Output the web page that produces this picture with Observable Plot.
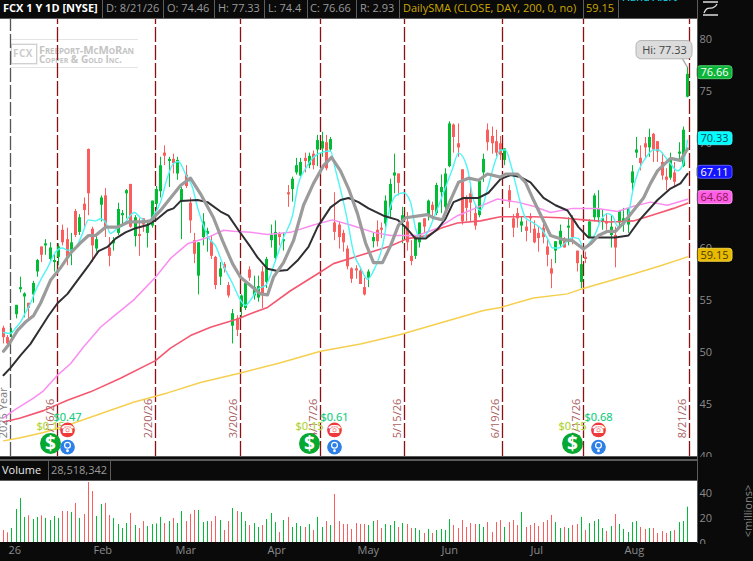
<!DOCTYPE html>
<html><head><meta charset="utf-8">
<script src="https://cdn.jsdelivr.net/npm/d3@7"></script>
<script src="https://cdn.jsdelivr.net/npm/@observablehq/plot@0.6"></script>
<style>
html,body{margin:0;padding:0;background:#0a0a0a;overflow:hidden}
#c{position:relative;width:753px;height:561px;overflow:hidden;font-family:"Open Sans",sans-serif;font-size:11px}
#c>svg{position:absolute;left:0;top:0;background:transparent}
.d{position:absolute}
.t{position:absolute;white-space:nowrap;line-height:14px}
</style></head><body><div id="c"></div>
<script>
// candles, one row of values per trading day
const open=[52.3,51.4,51.8,53.6,56,55.3,54.7,55.5,57.7,60.1,60.2,58.9,58.6,59.1,61.7,60.8,59.6,63.5,61.5,64.2,69.45,61.8,59.9,64.1,65,60,60.4,61.4,63.1,65.2,66.1,61.1,61.3,62.8,61.4,62.1,64.2,65.4,69.1,68.3,68.5,67.1,64.4,67,64.3,60.7,57.3,61,61.3,60.6,59.1,57.2,58.4,56.4,52.5,53.2,54.3,54.2,57.9,55.4,55.2,57.7,56.7,60.7,59,61.3,60.6,65.3,65.6,67.2,66.9,68.6,67.9,69,69.4,69.5,70.1,69.4,62.4,62.2,61.4,59.9,58,58,57.8,56.2,57.1,60.6,61.7,61.9,62.3,63.6,66.9,67.1,62.4,62.5,59.2,59.2,60.5,62.8,63.1,64.1,63.3,65.3,63.9,67.8,71.8,70,67.5,64.8,65.2,63.3,63.1,67.2,71.3,70.7,70.2,70,68.4,65.5,62.8,63.3,62.1,62,63,61.8,61.4,61.9,60.1,58,59.7,60.3,60.7,61.9,62.8,59.7,56.7,59.1,61,62.9,62.9,62.5,62.5,61.2,61.2,62.4,62.2,62.2,66.2,69.1,68.6,70,69.6,70.9,70.2,68.2,66.8,66.7,67.2,69,67.8,74.46];
const high=[52.5,51.6,52.3,54.5,57.2,55.7,54.7,56.8,58.9,60.1,60.8,60.5,59.3,60.4,62.2,61.9,61.4,63.7,63.2,64.8,69.5,62,61.3,65,65.7,61,61,64.3,63.6,65.6,66.1,63.1,62.8,62.8,62.5,64.5,65.9,68.7,69.8,68.7,69,68.7,65.8,67.9,64.8,61.4,60.5,63.3,61.9,61.2,59.2,58.6,58.6,56.7,54.1,53.5,55.5,56.6,58.2,57.3,57.3,58.2,59.1,62.2,62.6,61.5,61.4,66,66.8,68.6,68.6,69.1,69.1,69.3,70.8,71.1,70.8,70.6,65.3,62.5,61.7,60.2,58.1,58.3,58,57.1,57.9,61.4,62.6,62.4,65,66.6,69,67.1,63.9,63.4,60.7,61.1,62.4,62.8,64.6,64.4,66.2,67,67.6,72.1,71.9,71.9,67.5,65,66,64.1,66.5,69,71.9,71.6,71.3,70.7,69.5,66,63.2,63.8,63,62.6,63.3,62.6,62,62.3,60.9,58.9,60.6,62.2,61,62.9,63.1,59.7,59.3,59.6,62.7,65.2,65.5,63.6,63.3,63.1,62,63.6,63.8,63.8,67.9,70.6,69.8,70.6,71.4,71,70.2,69.1,67.6,69.1,68.2,70.1,71.6,77.33];
const low=[50.8,50.7,51.3,53.2,55.7,53.3,53.2,54.7,57.2,58.6,59.3,58.6,57.7,58.3,60.2,58.3,58.3,61,61.2,62,63.1,58.6,59.6,62.5,61,58.2,59.7,61.2,62.2,62.8,61.9,60.1,59.2,61.5,60,61.9,63.6,64.8,67.9,65.8,67.1,66.5,60.8,65.7,61.4,58.5,55.5,60.2,59.6,58.9,56,56.4,57.6,55.2,50.8,51.5,53.3,54,56.8,55,54.8,54.2,56.1,60,58.6,60.2,59.7,63.9,64.4,67,66.8,67.2,67.6,67.5,67.8,68.7,67.4,69.2,60.7,59.9,59.6,57.9,56.6,57,56.5,55.4,56.2,60,60.1,60.9,62,62.9,65.2,65,60.4,59.7,58.3,58.9,60,61.4,62.6,62.7,63.1,63.3,63.1,67.7,69.1,68.7,62.2,62.5,62.5,61.7,62.9,66.3,69.3,69,68.7,68.4,67.9,63.8,61,61.9,61.5,60.6,61.4,60.4,59.6,60.4,58.2,56.1,58.5,60,60,60.2,60.3,57.7,56.1,58.5,60.9,62.5,62.4,61.7,61.7,60,58.1,62,61.5,61.4,65.3,68.6,67.4,68.6,68.7,68.2,68.2,66.5,65.5,66.5,65.9,68.2,67.7,74.4];
const close=[51.4,50.8,52,54.5,56.2,55.6,54.2,56.6,58.8,59.3,60.4,60,58.8,60.1,60.5,59,60.5,61.2,62.9,63.6,65.2,60.2,60.8,64.8,62,59.2,60.7,63.7,63.3,65.5,62,62.9,61.1,62.2,62.2,64.5,65.6,67.9,68.8,68.5,68.1,68.4,65.6,65.9,62.6,59.4,60.5,62.5,61.6,59.2,56.4,58,58,55.4,53.7,52.1,55.4,56.6,57.1,56.2,56.3,55.5,58.9,61.2,61.5,61,60.8,65.2,66.6,67.9,68.2,68.3,68.8,67.9,70.3,70.2,67.6,70.4,61.5,61,60.5,58.2,57,57.8,56.5,55.5,57.7,61,60.6,61.7,64.5,66.1,67.2,66.2,63.1,60.5,58.7,61,62.4,62,64.5,63.6,66,65.8,67.1,71.9,70.6,69.6,62.5,63.8,64.3,62.1,66.4,68.5,70.1,70,69.1,68.9,69.5,64.4,61.9,62.8,62.5,61.6,62.8,60.5,60.9,61,59.3,57.5,60.6,61.6,60,62.1,61,58.5,58.4,58.9,62.5,65,63.7,62.8,62.4,62,60,63.5,62.8,63.7,67.3,69.4,68.1,69.6,70.6,69.4,69.2,66.9,66.5,68.5,66.3,69.2,71.3,76.66];
// volume in millions
const volume=[9.7,7.8,11.3,26.6,35.5,20.2,21.5,18.5,20.2,21.5,19.4,17.7,21,19.4,25,25,24.2,31.5,19.4,22.6,48.4,41.1,21,30.6,31.5,21.8,19.4,14.5,11.3,15.3,23.4,13.7,11.3,16.9,12.9,14.5,15,20.2,15.3,16.9,19.4,15.3,25,16.9,22.6,25.8,25.8,16.1,16.9,16.9,21,17.7,9.7,16.9,27.4,25,24.2,16.9,13.7,15.3,12.1,13.7,18.5,23.4,16.1,8,17.7,20.2,12.1,15.3,12.9,12.1,14.5,9.7,20.2,12.1,16.9,13.7,38.7,16.9,14.5,14.5,10.5,15.3,14.5,14.5,13.7,16.9,17.7,11.3,14.5,13.7,16.9,12.1,15.3,14.5,11.3,11.3,9.7,7.3,10.5,7.3,9.7,10.5,9.7,18.5,13.7,11.3,17.7,12.1,15.3,14.5,14.5,12.1,16.1,8,16.1,17.7,12.1,16.1,17.7,13.7,24.2,12.1,13.7,15.3,12.9,16.1,17.7,21.8,16.1,11.3,12.1,11.3,13.7,14.5,20.2,9.7,15.3,16.9,18.5,11.3,8.9,12.9,22.6,14.5,10.5,8,16.1,16.9,12.1,10.5,11.3,11.3,7.3,8.9,7.3,8.9,9.7,16.1,16.9,28.5];
// moving averages: bar position and value
const cyanAt=[0,1.7,2.9,4.1,5.2,6.4,7.6,8.8,10.4,12.3,14,15.1,16.3,17.7,18.7,20.1,21.7,22.9,24.1,25.2,26.9,28.3,29.5,30.9,32.3,34,35.4,37,38.7,40.1,41.2,42.9,44.5,45.7,46.9,48.3,50,51.8,54,55.8,57,58.2,60.1,61.7,64,65.9,68.1,69.5,71.1,73,75.1,77,78.2,79.8,81,82.4,84.1,85.7,87.1,89.2,90.7,92.3,94.2,95.8,97,98.2,99.8,101.7,103.6,105.7,107.1,109.2,110.6,112.3,114,115.8,117,118.2,119.4,120.5,121.7,122.9,124.8,126.9,128.1,129.2,130.6,132.3,133.9,135.4,136.5,137.9,139.4,140.5,142.2,143.4,144.5,145.7,146.9,148.3,149.5,151.6,153,154.2,155.8,157,158.6,159.8,161];
const cyanVal=[51.9,51.8,52.3,52.9,53.8,54.7,55.9,56.9,58.1,59.6,60,59.8,59.8,60.5,61.4,62.7,62.6,62.8,62.5,61.4,61.9,62.2,62.9,63.4,62.9,62.5,63.1,64.4,66.8,68.1,68.3,67.1,65.8,63.9,62.4,61,60.2,58.3,56.6,55,54.5,55,56.1,56.4,58.8,61,63.1,66.2,67.6,68.7,69.2,69.3,67.5,64.8,62.6,59.6,58.1,57,57.8,60.2,63.3,65,65.3,64.4,61.9,60.9,61.5,63.3,65.3,67.6,69.1,67.6,64.6,63.6,65.7,68.4,69.4,69.4,68.1,66.2,64.3,62.9,62.4,61.7,60.9,60,60,60.5,61,60.9,60,60.5,61.4,62.6,63.3,63.1,62.1,62.2,62.9,65.8,67.4,68.9,69.4,69.4,68.7,68.1,67.4,67.9,70.33];
const grayAt=[0,1.2,3.4,5.2,7.1,8.8,11.1,13.5,15.8,18.2,20.1,21.7,24.1,26.9,29.5,33,34.7,37,39.4,41.7,44.1,46.4,49.5,51.6,54,55.8,58.2,60.5,62.2,63.6,65.9,68.3,70.7,73,75.4,77.2,79.4,81.2,83.4,85.2,87.1,89.2,91.1,93,94.7,99.8,101.2,103.4,105.3,107.1,109.5,111.8,114,117,118.2,121,122.9,124.8,126.9,128.8,131.8,133.9,136.5,138.2,140,142.2,144,145.9,148.3,150.7,152.3,153.9,157,159.4,161];
const grayVal=[50.1,50.7,52.1,52.9,53.5,54.7,56.9,58.1,59.5,60.5,61.2,61.2,62,62,62.5,62.5,62.6,63.6,64.8,66,66.7,65.2,62.9,60.7,58.5,57.2,56.4,55.6,55.5,57.2,58.6,60.7,64.1,66.2,67.9,68.7,67.4,65.7,63.3,60.5,58.6,58.6,60.2,62.2,62.9,63.2,62.9,62.7,64.6,66.3,66.7,66.5,67.1,66.8,67.1,67.1,66.3,64.6,62.8,61.2,60.8,60.7,59.9,60.4,61.2,61.6,61.6,62.4,63.6,64.8,66.2,67.4,68.6,68.4,69.5];
const blackAt=[0,1.7,4.1,6.4,8.8,10.7,12.8,15.1,17.5,20.1,22.4,24.5,26.4,28.8,31.1,34,36.3,38.7,40.1,41.7,45.7,48.1,51.1,53,55.4,58.2,59.8,62.2,64.5,66.9,69.2,71.8,73.9,77,79.4,81.2,83.6,86,89.5,92.8,94.7,97,99.4,102.2,104,105.9,108.3,111.8,114.2,117,119.4,121.7,124.1,127.1,129.9,132.8,135.4,137.7,144,147.1,149.9,153.9,157,159.4,161];
const blackVal=[47.8,48.5,49.7,50.8,52.3,53.5,54.7,55.6,56.9,58.3,59.7,60.1,60.9,61.5,61.9,62.2,62.8,63.6,63.8,64.5,64.6,64.4,63.5,63.1,61.7,60.1,59.1,58,57.8,57.9,58.8,60.1,62,63.9,64.6,64.8,64.4,63.8,63.1,62.7,62,60.9,60.9,61.8,62.8,64.4,64.8,64.8,65.3,66.6,67,66.8,66.3,64.8,64.1,63.6,62,61,61,61.2,62.8,64.6,65.7,66.2,67.11];
const pinkAt=[0,2.4,7.1,9.5,12.8,15.8,18.9,22.9,25.2,30.7,35.8,39.4,43.4,48.1,51.8,54.2,58.2,62.2,67.6,73,77.5,81.7,87.1,91.1,97.5,102.2,106.9,111.6,116.3,121,124.8,128.8,133.9,139.8,144.5,148.3,152.3,156.3,161];
const pinkVal=[43.7,44.4,45.6,46.3,47.8,48.9,50.5,52.4,53.2,55,57.2,59,60.4,61,61.7,61.6,61.5,61.3,61.5,62.2,62.7,62.2,61.5,61.2,61.2,61.9,63.1,63.9,64.7,64.4,64,63.4,63.8,63.8,63.5,64,64.4,64.1,64.68];
const redAt=[0,4.1,9.5,15.1,20.5,27.6,35.8,39.4,44.1,48.8,55.1,58.2,62.2,67.6,74.7,77.7,84.1,91.1,95.1,99.8,102.9,106.9,112.3,117,124.8,131.1,136.5,142.9,148.3,153.9,157.7,161];
const redVal=[43.3,43.7,44.4,45.4,46.2,47.5,49.2,50.4,51.6,52.4,53.2,53.7,54.3,55.9,57.7,58.5,59.3,60.2,60.9,61.2,61.9,62.4,62.6,63,63,62.9,62.7,62.5,62.6,63.3,63.8,64.3];
const yellowAt=[0,4.1,9.5,15.1,22.9,30.7,38.7,46.4,55.8,65.2,74.7,84.1,93.5,105.3,113.1,117,124.8,132.8,136.3,140.5,148.3,154.7,161];
const yellowVal=[41.5,41.8,42.3,43,44.1,45.2,46.1,47.1,48,49,50.1,50.8,51.7,53.1,54,54.3,55.2,55.6,56.1,56.6,57.5,58.3,59.15];
// expiry markers and labels
const expiryAt=[12.66,35.7,55.7,74.5,94.4,117.5,136.5,161.5];
const expiryLabels=["1/16/26","2/20/26","3/20/26","4/17/26","5/15/26","6/19/26","7/17/26","8/21/26"];
const yearAt=[1.6];
const yearLabels=["2025 Year"];
const divAt=[11,72,134];
const divLabels=["$0.15","$0.15","$0.15"];
const earnAt=[15,78,140];
const earnLabels=["$0.47","$0.61","$0.68"];
const monthAt=[1.5,21.5,40.8,62.4,83.6,103.4,124.3,146.4];
const monthLabels=["26","Feb","Mar","Apr","May","Jun","Jul","Aug"];
const priceTicks=[80,75,70,65,60,55,50,45,40];
const volTicks=[40,20,0];
const tagValues=[76.66,70.33,67.11,64.68,59.15];
const tagFill=["#0cb53a","#00ffff","#1414ff","#ff5fe8","#e8bb00"];
const tagText=["#ffffff","#0b4a55","#ffffff","#8a1a50","#4a3a00"];
const tagBorder=["#50d070","#40e8f0","#5a5aff","#ff9af0","#f0d040"];

const n=close.length, bars=d3.range(n);
const UP="#00bd35", DOWN="#fb5d5d";
const col=i=>close[i]>=open[i]?UP:DOWN;
const c=document.getElementById("c");
const font='"Open Sans",sans-serif';
const xScale={type:"linear",domain:[0,161],range:[3,687],round:true};
function box(l,t,w,h,bg,parent){const e=document.createElement("div");e.className="d";e.style.cssText=`left:${l}px;top:${t}px;width:${w}px;height:${h}px;background:${bg}`;(parent||c).appendChild(e);return e}
function txt(s,l,t,color,extra){const e=document.createElement("div");e.className="t";e.textContent=s;e.style.cssText=`left:${l}px;top:${t}px;color:${color};${extra||""}`;c.appendChild(e);return e}

// panel backgrounds
box(0,19,697,437,"#fff");
box(0,481,697,61,"#fff");

// watermark
box(10,39,128,1,"#e4e4e4"); box(10,67,128,1,"#e4e4e4");
const mark=box(11,44,24,18,"transparent"); mark.style.border="1.5px solid #d0d0d0"; mark.style.boxShadow="0 0 0 1px #eee";
txt("FCX",13,46,"#cccccc","font:bold 10px 'Open Sans',sans-serif;line-height:14px;letter-spacing:.5px");
txt("Freeport-McMoRan",39,43,"#c4c4c4","font:bold 11px 'Open Sans',sans-serif;font-variant:small-caps;line-height:14px;letter-spacing:-.1px");
txt("Copper & Gold Inc.",39,52,"#c4c4c4","font:bold 10px 'Open Sans',sans-serif;font-variant:small-caps;line-height:14px;");

const dots=(at,val,r,fill)=>Plot.dot(at,{x:d=>d,y:()=>val,r,fill,stroke:"none"});
const lineOf=(at,val,stroke,strokeWidth,curve)=>Plot.line(d3.range(at.length),{x:i=>at[i],y:i=>val[i],stroke,strokeWidth,curve:curve||"linear"});

const price=Plot.plot({
  width:753,height:561,marginTop:0,marginBottom:0,marginLeft:0,marginRight:56,
  style:{fontFamily:font,fontSize:"11px",background:"transparent"},
  x:{...xScale,axis:null},
  y:{type:"linear",domain:[40,80],range:[456,39]},
  marks:[
    Plot.ruleX(yearAt,{x:d=>d,y1:40,y2:82.0,stroke:"#555",strokeWidth:1.3,strokeDasharray:"14,3"}),
    Plot.ruleX(expiryAt,{x:d=>d,y1:40,y2:82.0,stroke:"#8e0f0f",strokeWidth:1.3,strokeDasharray:"15,3"}),
    Plot.ruleX(bars,{x:i=>i,y1:i=>low[i],y2:i=>high[i],stroke:col,strokeWidth:1}),
    Plot.ruleX(bars,{x:i=>i,y1:i=>open[i],y2:i=>Math.abs(open[i]-close[i])<.2?open[i]+(close[i]>=open[i]?.2:-.2):close[i],stroke:col,strokeWidth:3}),
    lineOf(yellowAt,yellowVal,"#f6cf4f",1.5),
    lineOf(redAt,redVal,"#f4576f",1.6),
    lineOf(pinkAt,pinkVal,"#fb8df0",1.5),
    lineOf(cyanAt,cyanVal,"#4ff5f5",1.4,"monotone-x"),
    lineOf(blackAt,blackVal,"#2f2f33",2),
    lineOf(grayAt,grayVal,"#9b9b9b",3.2),
    Plot.axisY({ticks:priceTicks,anchor:"right",tickSize:0,tickPadding:2,color:"#8a8a8a",label:null,tickFormat:d=>d,fontSize:11,textAnchor:"start"}),
    Plot.text(expiryLabels,{x:(d,i)=>expiryAt[i],y:()=>41.75,text:d=>d,rotate:-90,textAnchor:"start",dx:-7,fill:"#a9605f",fontSize:11}),
    Plot.text(yearLabels,{x:(d,i)=>yearAt[i],y:()=>41.75,text:d=>d,rotate:-90,textAnchor:"start",dx:-7,fill:"#7c7c7c",fontSize:11}),
    // event markers
    dots(divAt,41.25,10.5,"#06a82f"),
    Plot.text(divAt,{x:d=>d,y:()=>41.25,text:()=>"$",fill:"#fff",fontWeight:"bold",fontSize:19}),
    Plot.text(divLabels,{x:(d,i)=>divAt[i],y:()=>42.85,text:d=>d,fill:"#a8d040",stroke:"#f3f7a8",strokeWidth:.5,fontSize:11,dy:0}),
    dots(earnAt,42.55,7.4,"#ee3a3a"),
    Plot.text(earnAt,{x:d=>d,y:()=>42.55,text:()=>"\u260E",fill:"#fff",fontSize:11,fontFamily:"DejaVu Sans"}),
    Plot.text(earnLabels,{x:(d,i)=>earnAt[i],y:()=>43.7,text:d=>d,fill:"#10c878",stroke:"#b8f5e0",strokeWidth:.4,fontSize:11}),
    dots(earnAt,40.9,7.4,"#2c80e8"),
    Plot.dot(earnAt,{x:d=>d,y:()=>41.08,r:2.9,stroke:"#fff",strokeWidth:1.2,fill:"#2c80e8"}),
    Plot.dot(earnAt,{x:d=>d,y:()=>40.55,r:1.4,fill:"#fff"}),
    // high label
    Plot.link([high[161]],{x1:()=>159.6,y1:()=>78.3,x2:()=>161,y2:d=>d,stroke:"#b0b0b0",strokeWidth:1.5}),
    Plot.rect([high[161]],{x1:()=>149,x2:()=>162.2,y1:()=>79.85,y2:()=>78.1,fill:"#dcdcdc",stroke:"#b4b4b4",rx:5}),
    Plot.text([high[161]],{x:()=>155.6,y:()=>78.98,text:d=>"Hi: "+d,fill:"#444",fontSize:11}),
    // value tags
    Plot.rect(tagValues,{x1:()=>163.3,x2:()=>171.5,y1:d=>d+.62,y2:d=>d-.62,dy:-1.6,fill:(d,i)=>tagFill[i],stroke:(d,i)=>tagBorder[i],rx:3}),
    Plot.text(tagValues,{x:()=>167.35,y:d=>d,dy:-1.6,text:d=>d.toFixed(2),fill:(d,i)=>tagText[i],fontSize:11})
  ]
});
c.appendChild(price);

// top bar
box(0,0,697,18,"#0a0a0a");
box(0,18,697,1,"#5c5c5c");
[102,163,214,264,306.7,356,398.7,583,618].forEach(x=>box(x,0,1,18,"#5c5c5c"));
const barText=[["FCX 1 Y 1D [NYSE]",3,"#fff","font-weight:700"],["D: 8/21/26",106,"#9a9a9a"],["O: 74.46",167,"#9a9a9a"],["H: 77.33",218,"#9a9a9a"],["L: 74.4",268,"#9a9a9a"],["C: 76.66",310,"#9a9a9a"],["R: 2.93",360,"#9a9a9a"],["DailySMA (CLOSE, DAY, 200, 0, no)",403,"#cba800"],["59.15",586,"#cba800"]];
barText.forEach(t=>txt(t[0],t[1],1,t[2],t[3]||""));
txt("Hand Alert",622,-10,"#18e8ff");
// right strip icon
const icon=document.createElementNS("http://www.w3.org/2000/svg","svg");
icon.setAttribute("width","20");icon.setAttribute("height","18");
icon.style.cssText="position:absolute;left:701px;top:0";
icon.innerHTML='<path d="M2 2H17M2 15H17M3 13C7 3 11 13 16 4" fill="none" stroke="#ddd" stroke-width="1.3"/>';
c.appendChild(icon);
box(697,0,1,543,"#5c5c5c");

// band between panels
box(0,457,753,24,"#0a0a0a");
box(0,456,697,1,"#5c5c5c");
box(0,459,697,1.5,"#5c5c5c");
box(0,480,697,1,"#5c5c5c");
box(697,457,1,24,"#5c5c5c");
box(47.5,460,1,20,"#5c5c5c");
box(110,460,1,20,"#5c5c5c");
txt("Volume",2,463,"#e8e8e8");
txt("28,518,342",51,463,"#9a9a9a");

const vol=Plot.plot({
  width:753,height:561,marginTop:0,marginBottom:19,marginLeft:0,marginRight:56,
  style:{fontFamily:font,fontSize:"11px",background:"transparent"},
  x:{...xScale,axis:null},
  y:{type:"linear",domain:[0,50],range:[542,480]},
  marks:[
    Plot.ruleX(bars,{x:i=>i,y1:0,y2:i=>volume[i],stroke:col,strokeWidth:1}),
    Plot.axisY({ticks:volTicks,anchor:"right",tickSize:0,tickPadding:2,color:"#8a8a8a",label:null,tickFormat:d=>d,fontSize:11,textAnchor:"start",dy:1}),
    Plot.axisX({ticks:monthAt,anchor:"bottom",tickSize:0,tickPadding:4,color:"#8a8a8a",label:null,fontSize:11,textAnchor:"start",tickFormat:(d,i)=>monthLabels[i],dx:-1})
  ]
});
c.appendChild(vol);
box(698,544,55,17,"#0a0a0a");
const mil=txt("<millions>",722,504,"#888","transform:rotate(-90deg);transform-origin:center");
</script></body></html>
